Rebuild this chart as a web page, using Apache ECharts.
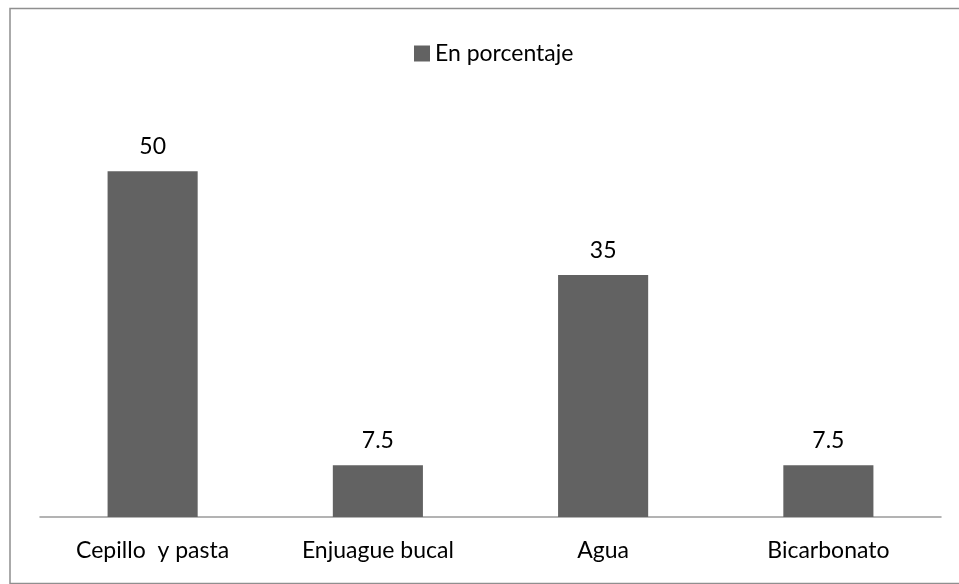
<!DOCTYPE html>
<html>
<head>
<meta charset="utf-8">
<script src="https://cdn.jsdelivr.net/npm/echarts@6/dist/echarts.min.js"></script>
<style>
  html, body { margin: 0; padding: 0; background: #fff; }
  #chart { width: 959px; height: 584px; }
</style>
</head>
<body>
<div id="chart"></div>
<script>
  var categories = ['Cepillo  y pasta', 'Enjuague bucal', 'Agua', 'Bicarbonato']
  var seriesName = 'En porcentaje'
  var values = [50, 7.5, 35, 7.5]

  var font = 'Lato, "Liberation Sans", sans-serif'
  var chart = echarts.init(document.getElementById('chart'))
  chart.setOption({
    backgroundColor: '#fff',
    animation: false,
    graphic: [{
      type: 'rect',
      shape: { x: 10, y: 8.5, width: 980, height: 575 },
      style: { fill: 'none', stroke: '#8f8f8f', lineWidth: 1.5 },
      silent: true
    }],
    legend: {
      data: [seriesName],
      left: 409,
      top: 37,
      itemWidth: 16,
      itemHeight: 16,
      icon: 'rect',
      textStyle: { fontFamily: font, fontSize: 23, color: '#000' }
    },
    grid: {
      top: 102,
      left: 40,
      right: 18,
      bottom: 67,
      containLabel: false
    },
    xAxis: {
      type: 'category',
      data: categories,
      axisLine: { lineStyle: { color: '#9a9a9a', width: 1.5 } },
      axisTick: { show: false },
      axisLabel: {
        margin: 22,
        fontFamily: font,
        fontSize: 23,
        color: '#000'
      }
    },
    yAxis: {
      type: 'value',
      min: 0,
      max: 60,
      show: false,
      splitLine: { show: false }
    },
    series: [{
      name: seriesName,
      type: 'bar',
      data: values,
      barWidth: '40%',
      itemStyle: { color: '#626262' },
      label: {
        show: true,
        position: 'top',
        distance: 13,
        fontFamily: font,
        fontSize: 23,
        color: '#000'
      }
    }]
  })
</script>
</body>
</html>
